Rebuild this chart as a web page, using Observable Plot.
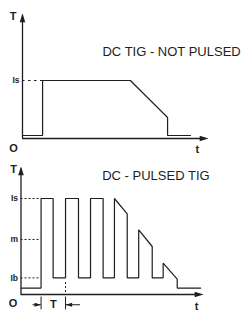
<!DOCTYPE html>
<html><head><meta charset="utf-8">
<script src="https://cdn.jsdelivr.net/npm/d3@7"></script>
<script src="https://cdn.jsdelivr.net/npm/@observablehq/plot@0.6"></script>
<style>
body{margin:0;background:#fff;}
#chart{width:243px;}
#chart svg{display:block;}
</style></head><body><div id="chart"></div>
<script>
// ---- Data: DC TIG not pulsed ----
const notPulsedTitle = "DC TIG - NOT PULSED";
const notPulsedTime    = [0, 10.8, 10.8, 58, 78, 78, 90.3];
const notPulsedCurrent = [2.4, 2.4, 46.4, 46.4, 16.8, 2.4, 2.4];
const notPulsedLevels = [46.4];
const notPulsedLevelLabels = ["Is"];
const notPulsedRise = 10.8;

// ---- Data: DC pulsed TIG ----
const pulsedTitle = "DC - PULSED TIG";
const pulsedTime = [0, 11, 11, 17.6, 17.6, 24.4, 24.4, 31.5, 31.5, 38.1, 38.1, 45, 45, 51.2, 51.2, 58.2, 58.2, 64.5, 64.5, 71.9, 71.9, 77.9, 77.9, 85.6, 85.6, 98.4];
const pulsedCurrent = [5, 5, 75, 75, 13, 13, 75, 75, 13, 13, 75, 75, 13, 13, 75, 63, 13, 13, 50.5, 37.5, 13, 13, 24.5, 12, 5, 5];
const pulsedLevels = [75, 43, 13];
const pulsedLevelLabels = ["Is", "m", "Ib"];
const periodStart = 11, periodEnd = 24.4;

const axisLabelY = "T", axisLabelX = "t", originLabel = "O", periodLabel = "T";

const tMax = 100, iMax = 100;
const ink = "#1e1e1e";
const font = "'Liberation Sans', Arial, sans-serif";

// slender filled arrow head, tip at origin pointing up
const arrowHead = {draw(ctx, size) {
  const r = Math.sqrt(size / Math.PI);
  ctx.moveTo(0, 0);
  ctx.lineTo(-0.7 * r, 2.2 * r);
  ctx.lineTo(0.7 * r, 2.2 * r);
  ctx.closePath();
}};

const zip = (ts, cs) => ts.map((t, i) => ({t, c: cs[i]}));

function axesMarks(lab) {
  return [
    Plot.ruleX([0], {y1: 0, y2: iMax - 2, stroke: ink, strokeWidth: 1.3}),
    Plot.ruleY([0], {x1: 0, x2: tMax - 2, stroke: ink, strokeWidth: 1.3}),
    Plot.dot([0], {x: 0, y: iMax, symbol: arrowHead, r: 4, fill: ink, stroke: null}),
    Plot.dot([0], {x: tMax, y: 0, symbol: arrowHead, r: 4, fill: ink, stroke: null, rotate: 90}),
    Plot.text([axisLabelY], {x: lab.T[0], y: lab.T[1], text: d => d, fontWeight: "bold", fontSize: 11, fill: ink}),
    Plot.text([originLabel], {x: lab.O[0], y: lab.O[1], text: d => d, fontWeight: "bold", fontSize: 11, fill: ink}),
    Plot.text([axisLabelX], {x: lab.t[0], y: lab.t[1], text: d => d, fontWeight: "bold", fontSize: 11, fill: ink})
  ];
}

function levelMarks(levels, labels, rise, dash) {
  return [
    Plot.ruleY(levels, {x1: 0, x2: rise, stroke: ink, strokeWidth: 1, strokeDasharray: dash}),
    Plot.text(levels, {x: 0, y: d => d, text: (d, i) => labels[i], textAnchor: "end", dx: -3, fontWeight: "bold", fontSize: 8.5, fill: ink})
  ];
}

const topChart = Plot.plot({
  width: 243, height: 156,
  marginLeft: 22, marginRight: 35, marginTop: 13, marginBottom: 18,
  x: {domain: [0, tMax], axis: null},
  y: {domain: [0, iMax], axis: null},
  style: {fontFamily: font, background: "white", overflow: "visible"},
  marks: [
    ...levelMarks(notPulsedLevels, notPulsedLevelLabels, notPulsedRise, "2.5,3.5"),
    Plot.line(zip(notPulsedTime, notPulsedCurrent), {x: "t", y: "c", stroke: ink, strokeWidth: 1.2, strokeLinejoin: "miter"}),
    ...axesMarks({T: [-5, 97.4], O: [-4.8, -7.6], t: [94, -8.8]}),
    Plot.text([notPulsedTitle], {x: 43, y: 69, text: d => d, textAnchor: "start", fontSize: 13, fill: ink})
  ]
});

const bottomChart = Plot.plot({
  width: 243, height: 156,
  marginLeft: 20.5, marginRight: 40, marginTop: 10, marginBottom: 18,
  x: {domain: [0, tMax], axis: null},
  y: {domain: [0, iMax], axis: null},
  style: {fontFamily: font, background: "white", overflow: "visible"},
  marks: [
    ...levelMarks(pulsedLevels, pulsedLevelLabels, periodStart, "2,2"),
    Plot.line(zip(pulsedTime, pulsedCurrent), {x: "t", y: "c", stroke: ink, strokeWidth: 1.2, strokeLinejoin: "miter"}),
    Plot.ruleX([periodEnd], {y1: 1.5, y2: 10, stroke: ink, strokeWidth: 1, strokeDasharray: "2,2"}),
    // period marker
    Plot.ruleX([periodStart, periodEnd], {y1: -2, y2: -12, stroke: ink, strokeWidth: 1}),
    Plot.ruleY([-8], {x1: periodStart - 4.4, x2: periodStart, stroke: ink, strokeWidth: 1}),
    Plot.ruleY([-8], {x1: periodEnd, x2: periodEnd + 8.2, stroke: ink, strokeWidth: 1}),
    Plot.dot([0], {x: periodStart, y: -8, symbol: arrowHead, r: 3, fill: ink, stroke: null, rotate: 90}),
    Plot.dot([0], {x: periodEnd, y: -8, symbol: arrowHead, r: 3, fill: ink, stroke: null, rotate: -90}),
    Plot.text([periodLabel], {x: (periodStart + periodEnd) / 2, y: -8, text: d => d, fontWeight: "bold", fontSize: 11, fill: ink}),
    ...axesMarks({T: [-4.1, 98], O: [-4.3, -7], t: [96.2, -9]}),
    Plot.text([pulsedTitle], {x: 44.5, y: 92.4, text: d => d, textAnchor: "start", fontSize: 13, fill: ink})
  ]
});

document.getElementById("chart").append(topChart, bottomChart);
</script></body></html>
